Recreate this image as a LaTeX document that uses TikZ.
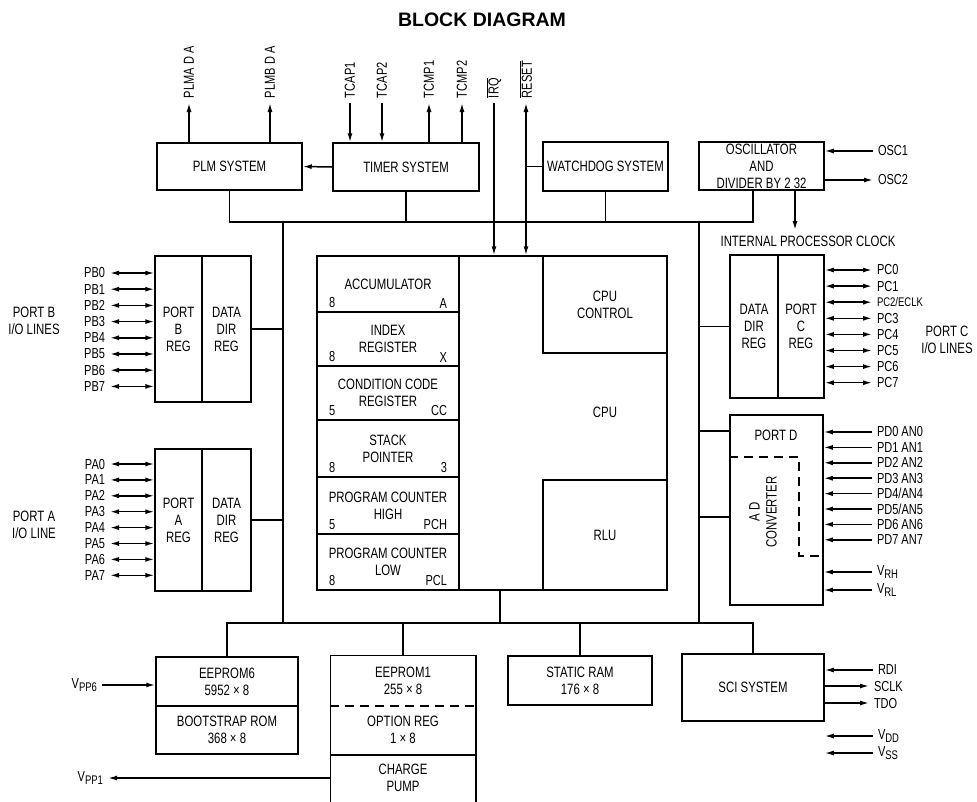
\documentclass[tikz,border=0pt]{standalone}
\usepackage{fontspec}
\setmainfont{Liberation Sans}[FakeStretch=0.76]
\newfontfamily\titlefont{Liberation Sans}
\usepackage{tikz}
\usetikzlibrary{arrows.meta}

\newcommand{\lowsub}[2]{#1\raisebox{-0.45ex}{\fontsize{12.5}{12.5}\selectfont #2}}

\tikzset{
  blk/.style={draw, rectangle, inner sep=0pt, align=center, font=\fontsize{15}{17}\selectfont},
  txt/.style={inner sep=0pt, align=center, font=\fontsize{15}{17}\selectfont},
  pinlbl/.style={inner sep=1pt, outer sep=4pt, font=\fontsize{14.5}{14.5}\selectfont},
  reglbl/.style={inner xsep=12pt, inner ysep=4pt, font=\fontsize{14.5}{14.5}\selectfont},
  sig/.style={-{Latex[length=9pt,width=5pt]}},
  bi/.style={{Latex[length=9pt,width=5pt]}-{Latex[length=9pt,width=5pt]}},
  adc/.style={dash pattern=on 9pt off 6pt}
}

\begin{document}
\begin{tikzpicture}[x=1pt, y=-1pt, line width=1.5pt]
  \useasboundingbox (0,0) rectangle (977,801);

  \node (title) at (482,20) [font=\titlefont\bfseries\fontsize{19.5}{20}\selectfont] {BLOCK DIAGRAM};

  % top row
  \node (plm) at (229.5,166.5) [blk, minimum width=145pt, minimum height=47pt] {PLM SYSTEM};
  \node (timer) at (406,167) [blk, minimum width=146pt, minimum height=48pt] {TIMER SYSTEM};
  \node (wdog) at (605.5,166.5) [blk, minimum width=125pt, minimum height=49pt] {WATCHDOG SYSTEM};
  \node (osc) at (761.5,166) [blk, minimum width=125pt, minimum height=48pt] {OSCILLATOR\\AND\\DIVIDER BY 2 32};

  % ports
  \node (pbreg) at (178.5,329) [blk, minimum width=47pt, minimum height=146pt] {PORT\\B\\REG};
  \node (pbddr) at (226.5,329) [blk, minimum width=49pt, minimum height=146pt] {DATA\\DIR\\REG};
  \node (pareg) at (178.5,520) [blk, minimum width=47pt, minimum height=142pt] {PORT\\A\\REG};
  \node (paddr) at (226.5,520) [blk, minimum width=49pt, minimum height=142pt] {DATA\\DIR\\REG};
  \node (pcddr) at (754,326.5) [blk, minimum width=48pt, minimum height=143pt] {DATA\\DIR\\REG};
  \node (pcreg) at (801,326.5) [blk, minimum width=46pt, minimum height=143pt] {PORT\\C\\REG};
  \node (portd) at (776.5,510) [blk, minimum width=93pt, minimum height=190pt] {};
  \node (pdlbl) at (776,435) [txt] {PORT D};
  \node (adlbl) at (763,512) [txt, rotate=90] {A D\\CONVERTER};
  \draw[adc] (portd.west |- 0,457) -| (799,556) -- (portd.east |- 0,556);

  \node (pblbl) at (34,321) [txt] {PORT B\\I/O LINES};
  \node (palbl) at (34,525) [txt] {PORT A\\I/O LINE};
  \node (pclbl) at (947,340) [txt] {PORT C\\I/O LINES};

  % cpu
  \node (cpu) at (492,423) [blk, minimum width=350pt, minimum height=334pt] {};
  \node (acc) at (388,284) [blk, minimum width=142pt, minimum height=56pt] {ACCUMULATOR};
  \node (idx) at (388,339) [blk, minimum width=142pt, minimum height=54pt] {INDEX\\REGISTER};
  \node (ccr) at (388,393) [blk, minimum width=142pt, minimum height=54pt] {CONDITION CODE\\REGISTER};
  \node (sp) at (388,448.5) [blk, minimum width=142pt, minimum height=57pt] {STACK\\POINTER};
  \node (pch) at (388,505.5) [blk, minimum width=142pt, minimum height=57pt] {PROGRAM COUNTER\\HIGH};
  \node (pcl) at (388,562) [blk, minimum width=142pt, minimum height=56pt] {PROGRAM COUNTER\\LOW};
  \foreach \r/\l/\rr in {acc/8/A, idx/8/X, ccr/5/CC, sp/8/3, pch/5/PCH, pcl/8/PCL} {
    \node (\r-l) at (\r.south west) [reglbl, anchor=south west] {\l};
    \node (\r-r) at (\r.south east) [reglbl, anchor=south east] {\rr};
  }
  \node (cpuctl) at (605,304.5) [blk, minimum width=124pt, minimum height=97pt] {CPU\\CONTROL};
  \node (cpulbl) at (605,412) [txt] {CPU};
  \node (alu) at (605,535) [blk, minimum width=124pt, minimum height=110pt] {RLU};

  % bottom row
  \node (eep6) at (227,681.5) [blk, minimum width=142pt, minimum height=49pt] {EEPROM6\\5952 × 8};
  \node (boot) at (227,730) [blk, minimum width=142pt, minimum height=48pt] {BOOTSTRAP ROM\\368 × 8};
  \node (eep1) at (403,680.5) [txt, minimum width=144pt, minimum height=49pt] {EEPROM1\\255 × 8};
  \node (opt) at (403,729.5) [txt, minimum width=144pt, minimum height=49pt] {OPTION REG\\1 × 8};
  \node (pump) at (403,777.5) [txt, minimum width=144pt, minimum height=47pt] {CHARGE\\PUMP};
  \draw (pump.south west) -- (eep1.north west) -- (eep1.north east) -- (pump.south east);
  \draw[adc] (eep1.south west) -- (eep1.south east);
  \draw (opt.south west) -- (opt.south east);
  \node (sram) at (580,680.5) [blk, minimum width=144pt, minimum height=49pt] {STATIC RAM\\176 × 8};
  \node (sci) at (753,687.5) [blk, minimum width=142pt, minimum height=67pt] {SCI SYSTEM};

  % internal bus
  \coordinate (tl) at (283,222);
  \coordinate (tr) at (699,222);
  \coordinate (bl) at (283,623);
  \coordinate (br) at (699,623);
  \draw (plm.south) |- (tl) -- (tr) -| ([xshift=-8.5pt]osc.south);
  \draw (timer.south) -- (timer.south |- tl);
  \draw (wdog.south) -- (wdog.south |- tl);
  \draw (tl) -- (bl);
  \draw (tr) -- (br);
  \draw (eep6.north) |- (bl) -- (br) -| (sci.north);
  \draw (eep1.north) -- (eep1.north |- bl);
  \draw (sram.north) -- (sram.north |- bl);
  \draw ([xshift=8pt]cpu.south) -- ([xshift=8pt]cpu.south |- bl);
  \draw (pbddr.east) -- (pbddr.east -| tl);
  \draw (paddr.east) -- (paddr.east -| tl);
  \draw (pcddr.west) -- (pcddr.west -| tr);
  \draw (portd.west |- 0,431) -- (tr |- 0,431);
  \draw (portd.west |- 0,517) -- (tr |- 0,517);
  \draw (timer.west) edge[sig] (plm.east);

  % top pins
  \foreach \nm/\x/\t in {plma/189/PLMA D A, plmb/270/PLMB D A} {
    \node (\nm) at (\x,103) [pinlbl, rotate=90, anchor=west] {\t};
    \draw[sig] (plm.north -| \nm.west) -- (\nm.west);
  }
  \foreach \nm/\x/\t in {tcap1/350/TCAP1, tcap2/382/TCAP2} {
    \node (\nm) at (\x,103) [pinlbl, rotate=90, anchor=west] {\t};
    \draw[sig] (\nm.west) -- (timer.north -| \nm.west);
  }
  \foreach \nm/\x/\t in {tcmp1/429/TCMP1, tcmp2/462/TCMP2} {
    \node (\nm) at (\x,103) [pinlbl, rotate=90, anchor=west] {\t};
    \draw[sig] (timer.north -| \nm.west) -- (\nm.west);
  }
  \node (irq) at (494,103) [pinlbl, rotate=90, anchor=west] {$\overline{\hbox{IRQ}}$};
  \node (rst) at (526,103) [pinlbl, rotate=90, anchor=west] {$\overline{\hbox{RESET}}$};
  \draw[sig] (irq.west) -- (irq.west |- cpu.north);
  \draw[bi] (rst.west) -- (rst.west |- cpu.north);
  \draw (wdog.west) -- (wdog.west -| rst.west);

  % oscillator
  \node (osc1) at (873,151) [pinlbl, anchor=west] {OSC1};
  \node (osc2) at (873,180) [pinlbl, anchor=west] {OSC2};
  \draw[sig] (osc1.west) -- (osc1.west -| osc.east);
  \draw[sig] (osc2.west -| osc.east) -- (osc2.west);
  \node (clk) at (808,241) [txt] {INTERNAL PROCESSOR CLOCK};
  \coordinate (clkin) at (795,230);
  \draw[sig] (osc.south -| clkin) -- (clkin);

  % port pins
  \foreach \i in {0,...,7} {
    \node (pb\i) at (110,{273+16.2*\i}) [pinlbl, anchor=east] {PB\i};
    \draw[bi] (pb\i.east) -- (pb\i.east -| pbreg.west);
    \node (pa\i) at (110,{464+15.9*\i}) [pinlbl, anchor=east] {PA\i};
    \draw[bi] (pa\i.east) -- (pa\i.east -| pareg.west);
  }
  \foreach \t [count=\i from 0] in {PC0, PC1, {\fontsize{12.5}{12.5}\selectfont PC2/ECLK}, PC3, PC4, PC5, PC6, PC7} {
    \node (pc\i) at (872,{270+16.1*\i}) [pinlbl, anchor=west] {\t};
    \draw[bi] (pc\i.west -| pcreg.east) -- (pc\i.west);
  }
  \foreach \t [count=\i from 0] in {PD0 AN0, PD1 AN1, PD2 AN2, PD3 AN3, {PD4/AN4}, {PD5/AN5}, PD6 AN6, PD7 AN7} {
    \node (pd\i) at (872,{432+15.4*\i}) [pinlbl, anchor=west] {\t};
    \draw[sig] (pd\i.west) -- (pd\i.west -| portd.east);
  }
  \node (vrh) at (872,572) [pinlbl, anchor=west] {\lowsub{V}{RH}};
  \node (vrl) at (872,590) [pinlbl, anchor=west] {\lowsub{V}{RL}};
  \draw[sig] (vrh.west) -- (vrh.west -| portd.east);
  \draw[sig] (vrl.west) -- (vrl.west -| portd.east);

  % bottom pins
  \node (vpp6) at (102,685) [pinlbl, anchor=east] {\lowsub{V}{PP6}};
  \draw[sig] (vpp6.east) -- (vpp6.east -| eep6.west);
  \node (vpp1) at (108,778) [pinlbl, anchor=east] {\lowsub{V}{PP1}};
  \draw[sig] (vpp1.east -| pump.west) -- (vpp1.east);
  \node (rdi) at (873,670) [pinlbl, anchor=west] {RDI};
  \node (sclk) at (869,686) [pinlbl, anchor=west] {SCLK};
  \node (tdo) at (869,703) [pinlbl, anchor=west] {TDO};
  \draw[sig] (rdi.west) -- (rdi.west -| sci.east);
  \draw[sig] (sclk.west -| sci.east) -- (sclk.west);
  \draw[sig] (tdo.west -| sci.east) -- (tdo.west);
  \node (vdd) at (873,736) [pinlbl, anchor=west] {\lowsub{V}{DD}};
  \node (vss) at (873,753) [pinlbl, anchor=west] {\lowsub{V}{SS}};
  \draw[sig] (vdd.west) -- (vdd.west -| sci.east);
  \draw[sig] (vss.west) -- (vss.west -| sci.east);
\end{tikzpicture}
\end{document}
